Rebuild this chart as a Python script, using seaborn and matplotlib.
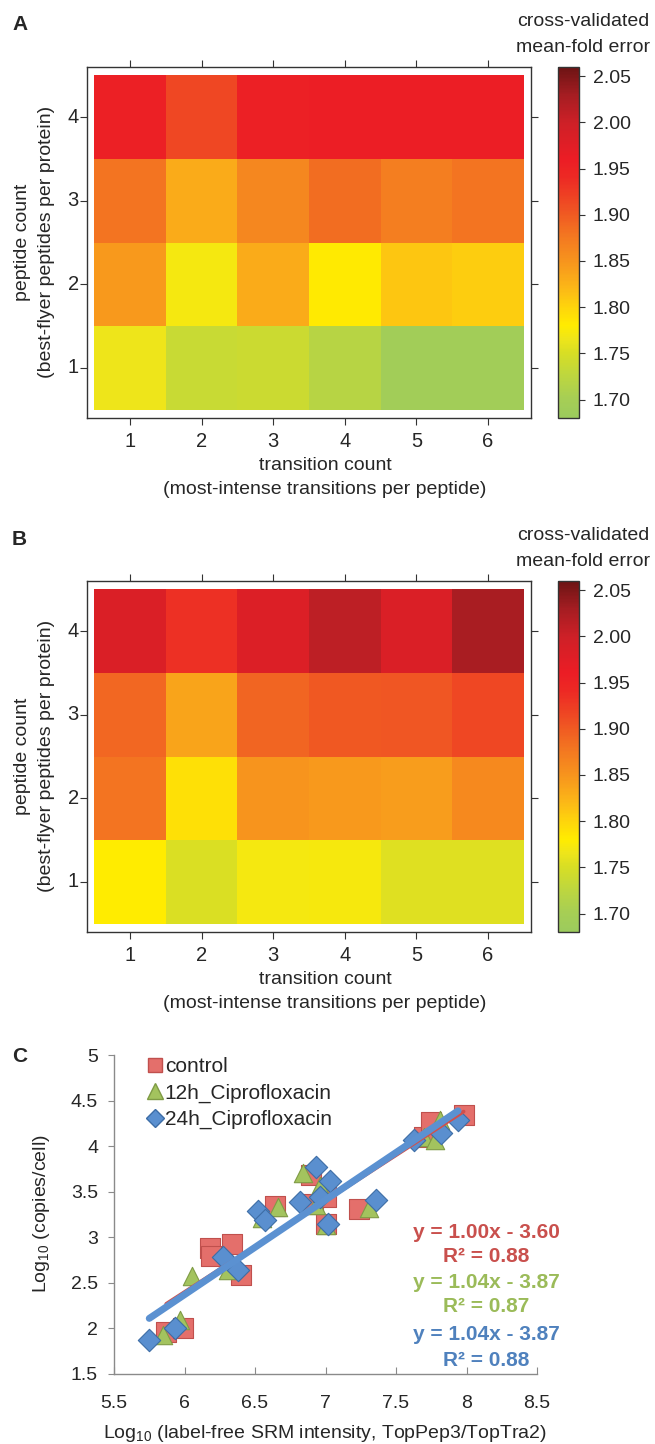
import numpy as np
import pandas as pd
import matplotlib
matplotlib.use("Agg")
import matplotlib.pyplot as plt
from matplotlib.colors import LinearSegmentedColormap
from matplotlib.lines import Line2D
from matplotlib.ticker import FormatStrFormatter, FuncFormatter
import seaborn as sns

# ---- data: panels A / B (cross-validated mean-fold error) ----
transition_counts = [1, 2, 3, 4, 5, 6]
peptide_counts = [4, 3, 2, 1]          # top row first

err_a = [
    [1.955, 1.915, 1.955, 1.958, 1.958, 1.958],
    [1.880, 1.830, 1.862, 1.886, 1.870, 1.880],
    [1.846, 1.772, 1.830, 1.782, 1.810, 1.806],
    [1.765, 1.736, 1.738, 1.720, 1.692, 1.692],
]
err_b = [
    [1.984, 1.935, 1.980, 2.012, 1.984, 2.026],
    [1.890, 1.836, 1.892, 1.902, 1.903, 1.915],
    [1.880, 1.790, 1.850, 1.845, 1.842, 1.860],
    [1.780, 1.752, 1.772, 1.773, 1.755, 1.755],
]
cbar_ticks = [1.70, 1.75, 1.80, 1.85, 1.90, 1.95, 2.00, 2.05]

# ---- data: panel C ----
ctrl_x = [5.87, 5.99, 6.18, 6.19, 6.34, 6.40, 6.64, 6.90, 6.91, 7.00, 7.00, 7.24, 7.70, 7.75, 7.98]
ctrl_y = [1.96, 2.01, 2.88, 2.79, 2.93, 2.59, 3.34, 3.68, 3.37, 3.44, 3.15, 3.31, 4.10, 4.26, 4.34]
cip12_x = [5.85, 5.97, 6.05, 6.31, 6.55, 6.66, 6.84, 6.96, 6.93, 7.00, 7.31, 7.70, 7.78, 7.81]
cip12_y = [1.93, 2.09, 2.57, 2.64, 3.21, 3.33, 3.70, 3.56, 3.35, 3.13, 3.32, 4.10, 4.07, 4.29]
cip24_x = [5.75, 5.93, 6.27, 6.38, 6.52, 6.57, 6.82, 6.93, 7.03, 6.96, 7.02, 7.36, 7.63, 7.82, 7.94]
cip24_y = [1.87, 2.01, 2.78, 2.64, 3.29, 3.19, 3.39, 3.77, 3.62, 3.44, 3.15, 3.41, 4.07, 4.14, 4.29]

series_names = ["control", "12h_Ciprofloxacin", "24h_Ciprofloxacin"]
fit_slopes = [1.00, 1.04, 1.04]
fit_intercepts = [-3.60, -3.87, -3.87]
fit_r2 = [0.88, 0.87, 0.88]

# ---- style ----
sns.set_style("ticks")
plt.rcParams["font.family"] = ["Liberation Sans", "DejaVu Sans"]
plt.rcParams["mathtext.default"] = "regular"

cmap = LinearSegmentedColormap.from_list("mfe", [
    (0.000, "#9CCB5D"), (0.053, "#A6CE55"), (0.132, "#C2D83A"),
    (0.184, "#D8DE24"), (0.224, "#EEE51A"), (0.263, "#FFEC00"),
    (0.316, "#FED40C"), (0.368, "#FCB817"), (0.447, "#F7941D"),
    (0.526, "#F37421"), (0.605, "#EF4E23"), (0.684, "#ED2A24"),
    (0.737, "#EC1D25"), (0.842, "#CE2027"), (0.921, "#A51D22"),
    (1.000, "#6D1414"),
])
VMIN, VMAX = 1.68, 2.06

W, H = 655, 1444
fig = plt.figure(figsize=(W / 100, H / 100), dpi=100)


def px_axes(x0, y0, x1, y1):
    return fig.add_axes([x0 / W, 1 - y1 / H, (x1 - x0) / W, (y1 - y0) / H])


def ftext(x, y, s, **kw):
    return fig.text(x / W, 1 - y / H, s, **kw)


def draw_heatmap(vals, top, letter):
    ax = px_axes(87, top, 531, top + 351)
    cax = px_axes(558, top, 579, top + 351)
    df = pd.DataFrame(vals, index=peptide_counts, columns=transition_counts)
    sns.heatmap(df, ax=ax, cmap=cmap, vmin=VMIN, vmax=VMAX, cbar_ax=cax,
                cbar_kws={"ticks": cbar_ticks}, linewidths=0)
    ax.set_xlim(-0.1, 6.1)
    ax.set_ylim(4.1, -0.1)
    for sp in ax.spines.values():
        sp.set_visible(True)
        sp.set_color("#333333")
        sp.set_linewidth(1.0)
    ax.tick_params(top=True, right=True, left=True, bottom=True,
                   labeltop=False, labelright=False, direction="out",
                   length=5, width=0.8, color="#333333", labelsize=14.5)
    ax.tick_params(axis="x", pad=5)
    ax.tick_params(axis="y", pad=1)
    ax.set_yticklabels(peptide_counts, rotation=0)
    ax.set_xticklabels(transition_counts, rotation=0)
    ax.set_xlabel("")
    ax.set_ylabel("")

    cbar = ax.collections[0].colorbar
    cbar.outline.set_edgecolor("#333333")
    cbar.outline.set_linewidth(1.0)
    cbar.ax.yaxis.set_major_formatter(FormatStrFormatter("%.2f"))
    cbar.ax.tick_params(labelsize=14, length=4, width=0.8, color="#333333", pad=6)

    ftext(12, top - 42, letter, size=15, weight="bold", va="center")
    ftext(583, top - 45, "cross-validated", size=14, ha="center", va="center")
    ftext(583, top - 20, "mean-fold error", size=14, ha="center", va="center")
    ftext(325, top + 399, "transition count", size=14, ha="center", va="center")
    ftext(325, top + 423, "(most-intense transitions per peptide)", size=14,
          ha="center", va="center")
    ftext(23, top + 175, "peptide count", size=14, ha="center", va="center",
          rotation=90)
    ftext(47, top + 175, "(best-flyer peptides per protein)", size=14,
          ha="center", va="center", rotation=90)


draw_heatmap(err_a, 67, "A")
draw_heatmap(err_b, 581, "B")

# ---- panel C ----
axc = px_axes(114, 1055, 537, 1374)
fills = ["#E46F6B", "#A3C35E", "#5A8FCF"]
edges = ["#C0504D", "#7F9B45", "#3D6DA6"]
lines = ["#D1504B", "#9BBB59", "#5B91D1"]
eq_colors = ["#C9504D", "#9BBB59", "#4F81BD"]
markers = ["s", "^", "D"]
sizes = [195, 175, 130]
xs_all = [ctrl_x, cip12_x, cip24_x]
ys_all = [ctrl_y, cip12_y, cip24_y]

for i in range(3):
    sns.scatterplot(x=xs_all[i], y=ys_all[i], ax=axc, marker=markers[i],
                    s=sizes[i], color=fills[i], edgecolor=edges[i],
                    linewidth=0.8, zorder=2 + i)

line_w = [2.6, 1.6, 5.0]
for i in range(3):
    fx = np.array([min(xs_all[i]), max(xs_all[i])])
    fy = fit_slopes[i] * fx + fit_intercepts[i]
    sns.lineplot(x=fx, y=fy, ax=axc, color=lines[i], lw=line_w[i],
                 zorder=6 + i, solid_capstyle="round")

axc.set_xlim(5.5, 8.5)
axc.set_ylim(1.5, 5)
axc.set_xticks(np.arange(5.5, 8.51, 0.5))
axc.set_yticks(np.arange(1.5, 5.01, 0.5))
fmt = FuncFormatter(lambda v, p: f"{v:g}")
axc.xaxis.set_major_formatter(fmt)
axc.yaxis.set_major_formatter(fmt)
sns.despine(ax=axc)
for side in ["left", "bottom"]:
    axc.spines[side].set_color("#8A8A8A")
    axc.spines[side].set_linewidth(1.0)
axc.tick_params(axis="y", direction="out", length=4.5, color="#8A8A8A",
                labelsize=14, pad=7)
axc.tick_params(axis="x", direction="in", length=5, color="#8A8A8A",
                labelsize=14, pad=15)

handles = [Line2D([], [], ls="", marker=markers[i], markersize=[10.5, 11, 9][i],
                  markerfacecolor=fills[i], markeredgecolor=edges[i])
           for i in range(3)]
axc.legend(handles, series_names, loc="upper left", bbox_to_anchor=(0.078, 0.994),
           frameon=False, handletextpad=0.05, handlelength=0.8,
           labelspacing=0.36, borderaxespad=0, borderpad=0, fontsize=15)

eq_rows = [1233, 1257, 1282, 1307, 1335, 1360]
for i in range(3):
    eq = f"y = {fit_slopes[i]:.2f}x - {abs(fit_intercepts[i]):.2f}"
    r2 = f"R² = {fit_r2[i]:.2f}"
    for txt, py in [(eq, eq_rows[2 * i]), (r2, eq_rows[2 * i + 1])]:
        ftext(486, py, txt, color=eq_colors[i], size=15, weight="bold",
              ha="center", va="center")

ftext(12, 1057, "C", size=15, weight="bold", va="center")
ftext(42, 1214, r"Log$_{10}$ (copies/cell)", size=14, ha="center",
      va="center", rotation=90)
ftext(325, 1433, r"Log$_{10}$ (label-free SRM intensity, TopPep3/TopTra2)",
      size=14, ha="center", va="center")

fig.savefig("out.png", dpi=100)
